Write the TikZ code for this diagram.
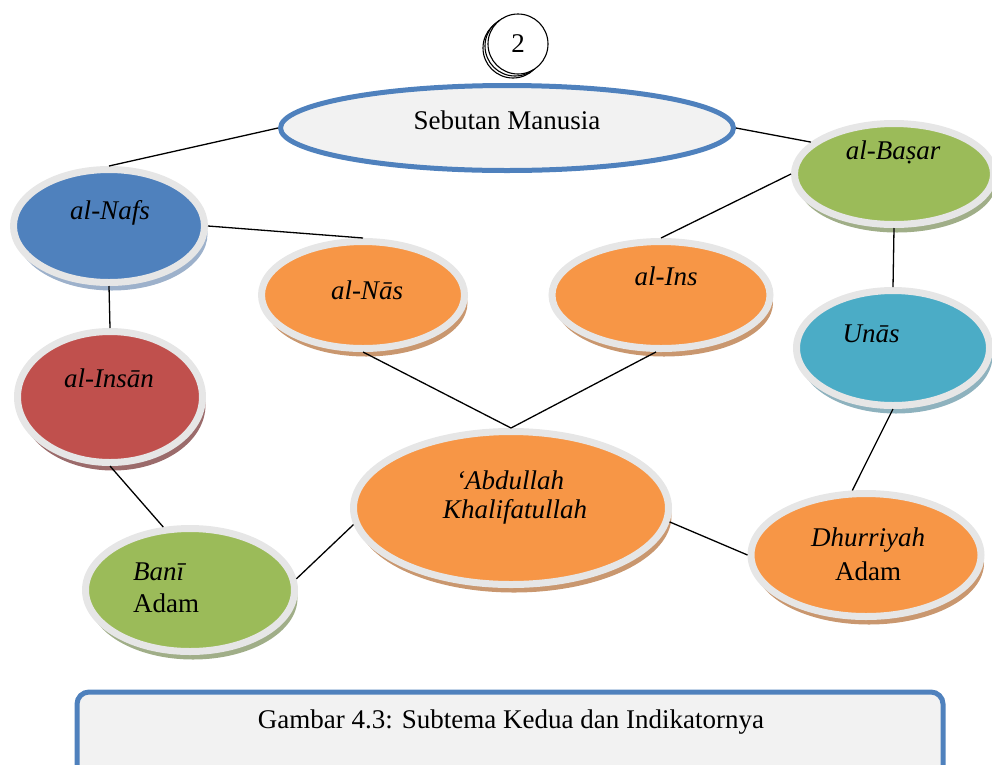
\documentclass[tikz,border=0pt]{standalone}
\usepackage{fontspec}
\setmainfont{Liberation Serif}
\usetikzlibrary{shapes.geometric,shadows}
\definecolor{cblue}{HTML}{4F81BD}
\definecolor{corange}{HTML}{F79646}
\definecolor{cgreen}{HTML}{9BBB59}
\definecolor{cred}{HTML}{C0504D}
\definecolor{cteal}{HTML}{4BACC6}
\definecolor{rimgray}{HTML}{E6E6E6}
\definecolor{lightfill}{HTML}{F2F2F2}
\definecolor{sblue}{HTML}{9DB1CB}
\definecolor{sorange}{HTML}{C9976F}
\definecolor{sgreen}{HTML}{A0AE88}
\definecolor{sred}{HTML}{9B6B6B}
\definecolor{steal}{HTML}{8EB2BE}
\tikzset{
  bub/.style 2 args={ellipse, inner sep=0pt, fill=#1, draw=rimgray, line width=7pt,
    drop shadow={shadow xshift=3pt, shadow yshift=-8pt, fill=#2, opacity=1}},
  txt/.style={font=\fontsize{27}{32}\selectfont, inner sep=0pt, text=black},
  conn/.style={draw=black, line width=1.3pt},
  numc/.style={circle, fill=white, draw=black, line width=1.1pt, minimum size=60pt, inner sep=0pt}
}
\begin{document}
\begin{tikzpicture}[x=1pt,y=-1pt]
\useasboundingbox (0,0) rectangle (992,764);
\clip (0,0) rectangle (992,764);
% number circle
\node[numc] (c2a) at (513,48) {};
\node[numc] (c2b) at (515,46) {};
\node[numc] (c2) at (518,44) {};
\node[txt] (c2t) at (518,44) {2};
% main ellipse
\node[ellipse, fill=lightfill, draw=cblue, line width=5pt, minimum width=453pt, minimum height=85pt, inner sep=0pt] (seb) at (507,128) {};
\node[txt] (sebt) at (507,120) {Sebutan Manusia};
% bubbles
\node[bub={cblue}{sblue}, minimum width=191pt, minimum height=113pt] (nafs) at (109,226) {};
\node[bub={corange}{sorange}, minimum width=203pt, minimum height=107pt] (nas) at (363,295) {};
\node[bub={corange}{sorange}, minimum width=218pt, minimum height=107pt] (ins) at (661,295) {};
\node[bub={cgreen}{sgreen}, minimum width=199pt, minimum height=101pt] (basar) at (894,174) {};
\node[bub={cteal}{steal}, minimum width=193pt, minimum height=115pt] (unas) at (893,348) {};
\node[bub={cred}{sred}, minimum width=185pt, minimum height=131pt] (insan) at (110,397) {};
\node[bub={corange}{sorange}, minimum width=315pt, minimum height=153pt] (abd) at (511,508) {};
\node[bub={cgreen}{sgreen}, minimum width=209pt, minimum height=123pt] (bani) at (190,590) {};
\node[bub={corange}{sorange}, minimum width=230pt, minimum height=123pt] (dhur) at (866,555) {};
% texts
\node[txt] (nafst) at (110,213) {\itshape al-Nafs};
\node[txt] (nast) at (367,290) {\itshape al-Nās};
\node[txt] (inst) at (666,276) {\itshape al-Ins};
\node[txt] (basart) at (893,152) {\itshape al-Baṣar};
\node[txt] (unast) at (871,334) {\itshape Unās};
\node[txt] (insant) at (109,378) {\itshape al-Insān};
\node[txt] (abdt1) at (510,480) {\itshape ‘Abdullah};
\node[txt] (abdt2) at (515,512) {\itshape Khalifatullah};
\node[txt, anchor=west] (banit1) at (133,572) {\itshape Banī};
\node[txt, anchor=west] (banit2) at (133,603) {Adam};
\node[txt] (dhurt1) at (868,540) {\itshape Dhurriyah};
\node[txt] (dhurt2) at (868,571) {Adam};
% connectors
\draw[conn] (seb.west) -- (nafs.north);
\draw[conn] (seb.east) -- (basar.159);
\draw[conn] (nafs.east) -- (nas.north);
\draw[conn] (nafs.south) -- (insan.north);
\draw[conn] (basar.west) -- (ins.north);
\draw[conn] (basar.south) -- (unas.north);
\draw[conn] (nas.south) -- (abd.north);
\draw[conn] (ins.265) -- (abd.north);
\draw[conn] (insan.south) -- (bani.113);
\draw[conn] (abd.186) -- (bani.6);
\draw[conn] (abd.355) -- (dhur.west);
\draw[conn] (unas.south) -- (dhur.102);
% caption
\node[draw=cblue, fill=lightfill, line width=5pt, rounded corners=12pt, minimum width=866pt, minimum height=90pt, inner sep=0pt] (cap) at (510,737) {};
\node[txt] (capt) at (511,722) {Gambar 4.3: Subtema Kedua dan Indikatornya};
\end{tikzpicture}
\end{document}
